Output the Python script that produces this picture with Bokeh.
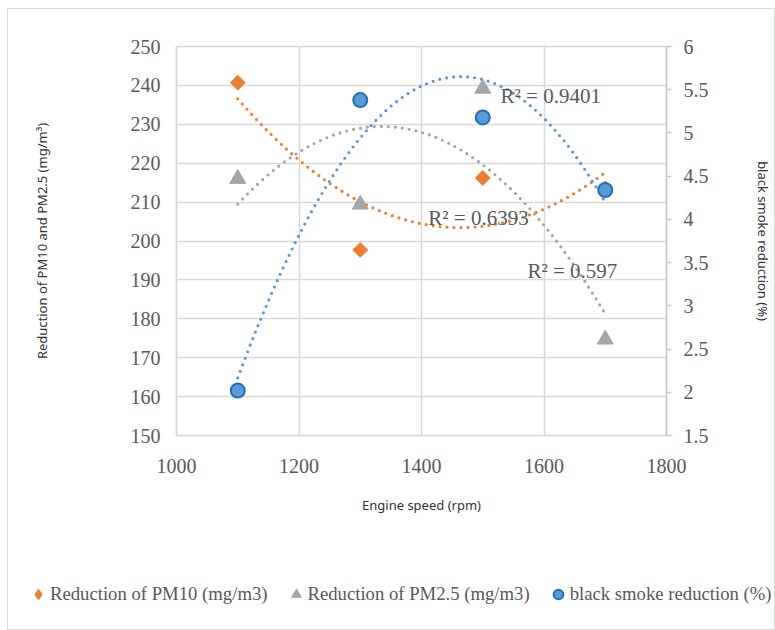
import numpy as np
from bokeh.plotting import figure
from bokeh.layouts import column
from bokeh.models import (Range1d, LinearAxis, FixedTicker, Label, Legend,
                          LegendItem, ColumnDataSource)
from bokeh.embed import file_html
from bokeh.resources import INLINE

# ---------------- data ----------------
speed = [1100, 1300, 1500, 1700]
pm10 = [240.7, 197.7, 216.2, 213.5]
pm25 = [216.0, 209.4, 239.2, 174.7]
smoke = [2.02, 5.38, 5.18, 4.34]

x_ticks = [1000, 1200, 1400, 1600, 1800]
left_ticks = [150, 160, 170, 180, 190, 200, 210, 220, 230, 240, 250]
right_ticks = [1.5, 2, 2.5, 3, 3.5, 4, 4.5, 5, 5.5, 6]

series_names = ["Reduction of PM10 (mg/m3)", "Reduction of PM2.5 (mg/m3)",
                "black smoke reduction (%)"]
r2_texts = ["R² = 0.6393", "R² = 0.597", "R² = 0.9401"]

# ---------------- style ----------------
ORANGE = "#ED7D31"
GRAY = "#A5A5A5"
BLUE = "#5B9BD5"
BLUE_EDGE = "#1F6FBF"
GRID = "#d9d9d9"
TXT = "#595959"
SERIF = "Liberation Serif"
SANS = "Noto Sans"

p = figure(width=766, height=560, output_backend="svg", toolbar_location=None,
           x_range=Range1d(1000, 1800), y_range=Range1d(150, 250),
           min_border_left=168, min_border_right=108, min_border_top=37,
           min_border_bottom=134, x_axis_location="below")
p.extra_y_ranges = {"smoke": Range1d(1.5, 6)}
p.outline_line_color = GRID
p.outline_line_width = 1.5
p.background_fill_color = "white"
p.border_fill_color = "white"

# axes
xa = p.xaxis[0]
xa.ticker = FixedTicker(ticks=x_ticks)
xa.axis_label = "Engine speed (rpm)"
ya = p.yaxis[0]
ya.ticker = FixedTicker(ticks=left_ticks)
ya.axis_label = "Reduction of PM10 and PM2.5 (mg/m³)"

ra = LinearAxis(y_range_name="smoke", ticker=FixedTicker(ticks=right_ticks),
                axis_label="black smoke reduction (%)")
ra.major_label_overrides = {t: f"{t:g}" for t in right_ticks}
p.add_layout(ra, "right")

for ax in (xa, ya, ra):
    ax.axis_line_color = GRID
    ax.axis_line_width = 1.5
    ax.major_tick_in = 0
    ax.minor_tick_line_color = None
    ax.major_label_text_font = SERIF
    ax.major_label_text_font_size = "20px"
    ax.major_label_text_color = TXT
    ax.axis_label_text_font = SANS
    ax.axis_label_text_font_size = "13px"
    ax.axis_label_text_font_style = "normal"
    ax.axis_label_text_color = "#333333"

xa.major_tick_out = 0
xa.major_label_standoff = 23
xa.axis_label_standoff = 20
ya.major_tick_out = 0
ya.major_label_standoff = 16
ya.axis_label_standoff = 77
ra.axis_line_color = "#c8c8c8"
ra.major_tick_out = 5
ra.major_tick_line_color = "#c8c8c8"
ra.major_tick_line_width = 1.5
ra.major_label_standoff = 12
ra.axis_label_standoff = 42

p.xgrid.grid_line_color = GRID
p.xgrid.grid_line_width = 1.5
p.ygrid.grid_line_color = GRID
p.ygrid.grid_line_width = 1.5

# ---------------- trendlines (2nd order polynomial fits) ----------------
xs = np.linspace(min(speed), max(speed), 240)
dash = dict(line_dash="0 7", line_cap="round", line_width=3.2)
c10 = np.polyfit(speed, pm10, 2)
c25 = np.polyfit(speed, pm25, 2)
csm = np.polyfit(speed, smoke, 2)
p.line(xs, np.polyval(c10, xs), line_color=ORANGE, **dash)
p.line(xs, np.polyval(c25, xs), line_color=GRAY, **dash)
p.line(xs, np.polyval(csm, xs), line_color=BLUE, y_range_name="smoke", **dash)

# ---------------- markers ----------------
m10 = dict(marker="square", angle=np.pi / 4, size=10.5, fill_color=ORANGE,
           line_color=ORANGE)
m25 = dict(marker="triangle", size=16, fill_color=GRAY, line_color=GRAY)
msm = dict(marker="circle", size=14, fill_color=BLUE, line_color=BLUE_EDGE,
           line_width=2)
src = ColumnDataSource(dict(speed=speed, pm10=pm10, pm25=pm25, smoke=smoke))
p.scatter("speed", "pm10", source=src, **m10)
p.scatter("speed", "pm25", source=src, **m25)
p.scatter("speed", "smoke", source=src, y_range_name="smoke", **msm)

# ---------------- R² labels ----------------
label_pos = [(1411, 205.8), (1573, 192.4), (1529, 237.4)]
for txt, (lx, ly) in zip(r2_texts, label_pos):
    p.add_layout(Label(x=lx, y=ly, text=txt, text_font=SERIF,
                       text_font_size="21px", text_color=TXT,
                       text_baseline="middle", text_align="left"))

# ---------------- legend strip ----------------
pl = figure(width=766, height=60, output_backend="svg", toolbar_location=None,
            x_range=Range1d(0, 1), y_range=Range1d(0, 1),
            x_axis_type=None, y_axis_type=None, min_border=0,
            frame_align=False)
pl.outline_line_color = None
pl.xgrid.visible = False
pl.ygrid.visible = False
# off-range proxy point so the legend has something to draw its symbol from
proxy = ColumnDataSource(dict(x=[-5], y=[-5]))
l10 = pl.scatter("x", "y", source=proxy, marker="diamond", fill_color=ORANGE,
                 line_color=ORANGE, line_width=1.5)
l25 = pl.scatter("x", "y", source=proxy, **m25)
lsm = pl.scatter("x", "y", source=proxy, **msm)
legend = Legend(items=[LegendItem(label=n, renderers=[r])
                       for n, r in zip(series_names, [l10, l25, lsm])],
                location=(18, 23), orientation="horizontal",
                label_text_font=SERIF, label_text_font_size="18.7px",
                label_text_color=TXT, glyph_width=24, glyph_height=24,
                label_standoff=0, padding=0, margin=0, spacing=16,
                background_fill_alpha=0, border_line_alpha=0)
pl.add_layout(legend, "center")

layout = column(p, pl, spacing=0,
                styles={"border": "1px solid #d9d9d9", "margin-left": "7px",
                        "margin-top": "8px"})

open("out.html", "w").write(file_html(layout, INLINE))
